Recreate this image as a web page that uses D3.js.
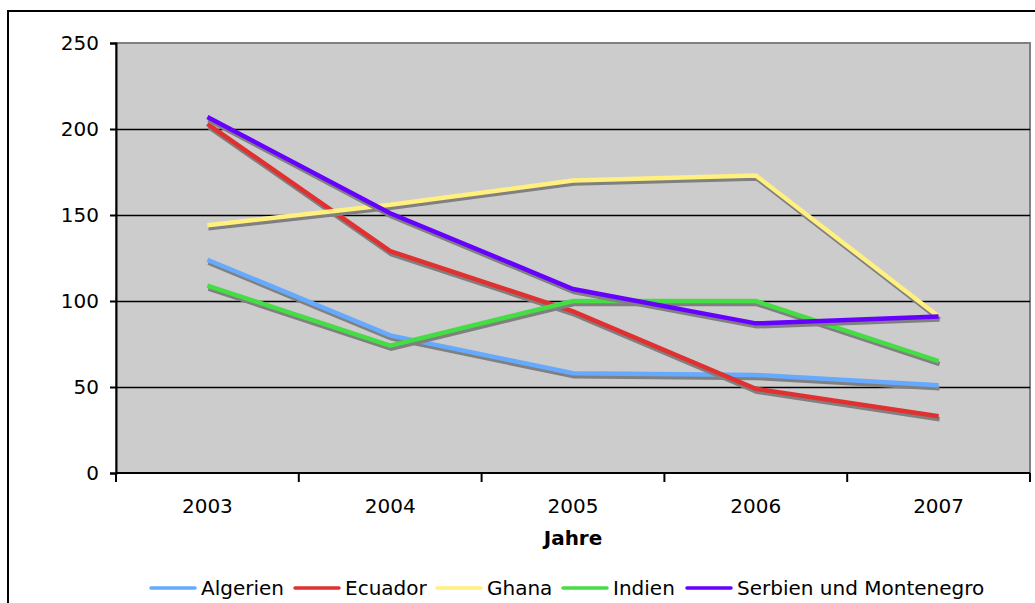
<!DOCTYPE html>
<html>
<head>
<meta charset="utf-8">
<script src="https://cdn.jsdelivr.net/npm/d3@7"></script>
<style>
  body { margin: 0; background: #fff; }
  text { font-family: "DejaVu Sans", Verdana, sans-serif; }
</style>
</head>
<body>
<script>
// data
var years = ["2003", "2004", "2005", "2006", "2007"];
var countries = ["Algerien", "Ecuador", "Ghana", "Indien", "Serbien und Montenegro"];
var colors = ["#66aaff", "#e03030", "#fff080", "#44dd44", "#6600ff"];
var algerien = [124, 80, 58, 57, 51];
var ecuador = [203, 129, 94, 49, 33];
var ghana = [144, 156, 170, 173, 91];
var indien = [109, 74, 100, 100, 65];
var serbien = [207, 151, 107, 87, 91];
var yTicks = [0, 50, 100, 150, 200, 250];

var series = [algerien, ecuador, ghana, indien, serbien];

var margin = { top: 43, right: 5, bottom: 130, left: 116 },
  width = 1035 - margin.left - margin.right,
  height = 603 - margin.top - margin.bottom;

var svg = d3.select("body").append("svg")
  .attr("width", 1035)
  .attr("height", 603);

// outer chart border (runs off the page on right and bottom)
svg.append("rect")
  .attr("x", 8).attr("y", 11)
  .attr("width", 1040).attr("height", 600)
  .attr("fill", "none").attr("stroke", "#000").attr("stroke-width", 2);

var g = svg.append("g")
  .attr("transform", `translate(${margin.left},${margin.top})`);

var x = d3.scaleBand().domain(years).range([0, width]);
var y = d3.scaleLinear().domain([0, 250]).range([height, 0]);

// plot area
g.append("rect")
  .attr("width", width).attr("height", height)
  .attr("fill", "#cccccc")
  .attr("stroke", "#808080").attr("stroke-width", 2);

// gridlines
g.selectAll(".grid")
  .data(yTicks.slice(1, -1))
  .enter().append("line")
  .attr("x1", 0).attr("x2", width)
  .attr("y1", d => Math.round(y(d)) + 0.5).attr("y2", d => Math.round(y(d)) + 0.5)
  .attr("stroke", "#000").attr("stroke-width", 1.5);

// lines with shadows
var line = d3.line()
  .x((d, i) => x(years[i]) + x.bandwidth() / 2)
  .y(d => y(d));

series.forEach(function (vals, k) {
  g.append("path")
    .datum(vals)
    .attr("d", line)
    .attr("transform", "translate(1,3)")
    .attr("fill", "none")
    .attr("stroke", "#808080")
    .attr("stroke-width", 4.5);
  g.append("path")
    .datum(vals)
    .attr("d", line)
    .attr("fill", "none")
    .attr("stroke", colors[k])
    .attr("stroke-width", 4.5);
});

// y axis
var yAxis = g.append("g")
  .call(d3.axisLeft(y).tickValues(yTicks).tickSize(6).tickPadding(11));
yAxis.select(".domain").attr("stroke-width", 2);
yAxis.selectAll(".tick line").attr("stroke-width", 2);
yAxis.selectAll("text").attr("font-size", 20).attr("fill", "#000")
  .style("font-family", "DejaVu Sans, Verdana, sans-serif");

// x axis with category-boundary ticks
var xAxisG = g.append("g").attr("transform", `translate(0,${height})`);
xAxisG.append("line")
  .attr("x1", 0).attr("x2", width)
  .attr("stroke", "#000").attr("stroke-width", 2);
xAxisG.selectAll(".xt")
  .data(d3.range(years.length + 1))
  .enter().append("line")
  .attr("x1", i => i * x.bandwidth()).attr("x2", i => i * x.bandwidth())
  .attr("y1", 0).attr("y2", 9)
  .attr("stroke", "#000").attr("stroke-width", 2);
xAxisG.selectAll(".xl")
  .data(years)
  .enter().append("text")
  .attr("x", d => x(d) + x.bandwidth() / 2)
  .attr("y", 40)
  .attr("text-anchor", "middle")
  .attr("font-size", 20)
  .text(d => d);

g.append("text")
  .attr("x", width / 2)
  .attr("y", height + 72)
  .attr("text-anchor", "middle")
  .attr("font-size", 20)
  .attr("font-weight", "bold")
  .text("Jahre");

// legend
var legendX = [151, 295, 437, 563, 687];
var legend = svg.append("g");
countries.forEach(function (c, k) {
  legend.append("line")
    .attr("x1", legendX[k]).attr("x2", legendX[k] + 44)
    .attr("y1", 588).attr("y2", 588)
    .attr("stroke", colors[k]).attr("stroke-width", 3.5)
    .attr("stroke-linecap", "round");
  legend.append("text")
    .attr("x", legendX[k] + 50)
    .attr("y", 595)
    .attr("font-size", 20)
    .text(c);
});
</script>
</body>
</html>
